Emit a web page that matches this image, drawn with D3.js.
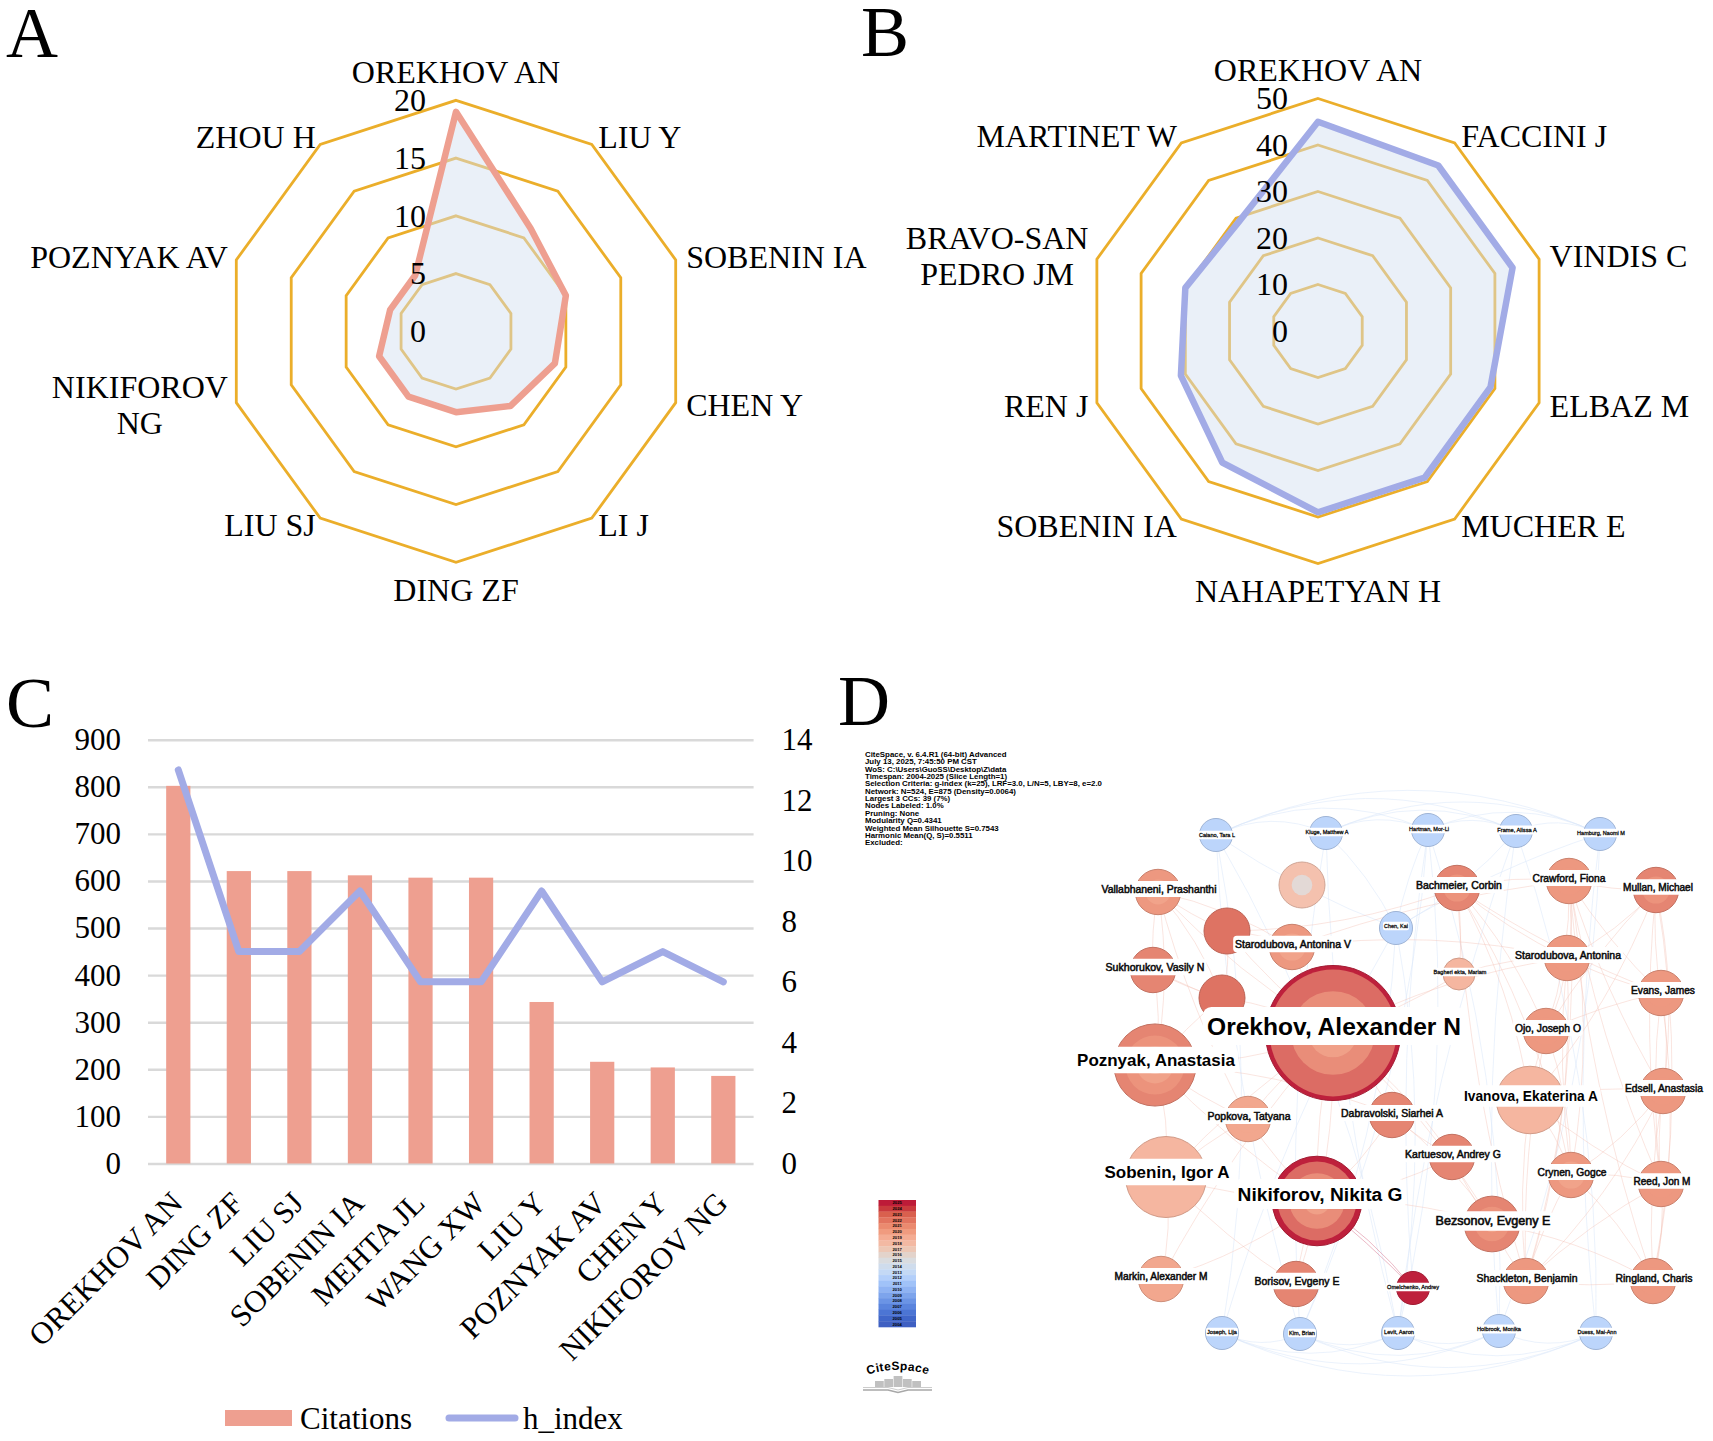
<!DOCTYPE html>
<html>
<head>
<meta charset="utf-8">
<script src="https://cdn.jsdelivr.net/npm/d3@7"></script>
<style>
  body { margin: 0; background: #fff; }
  svg { display: block; }
  text { font-family: "Liberation Serif", serif; fill: #000; }
  .net text, .info text, .logo text { font-family: "Liberation Sans", sans-serif; }
</style>
</head>
<body>
<svg id="chart" width="1713" height="1441"></svg>
<script>
// panel A
var radarAAuthors = ["OREKHOV AN", "LIU Y", "SOBENIN IA", "CHEN Y", "LI J", "DING ZF", "LIU SJ", "NIKIFOROV|NG", "POZNYAK AV", "ZHOU H"];
var radarAValues = [19, 11, 10, 9, 8, 7, 7, 7, 6, 6];
var radarATicks = [0, 5, 10, 15, 20];

// panel B
var radarBAuthors = ["OREKHOV AN", "FACCINI J", "VINDIS C", "ELBAZ M", "MUCHER E", "NAHAPETYAN H", "SOBENIN IA", "REN J", "BRAVO-SAN|PEDRO JM", "MARTINET W"];
var radarBValues = [45, 44, 44, 39, 39, 39, 35, 31, 30, 29];
var radarBTicks = [0, 10, 20, 30, 40, 50];

// panel C
var barAuthors = ["OREKHOV AN", "DING ZF", "LIU SJ", "SOBENIN IA", "MEHTA JL", "WANG XW", "LIU Y", "POZNYAK AV", "CHEN Y", "NIKIFOROV NG"];
var citations = [802, 621, 621, 612, 607, 607, 343, 216, 204, 186];
var hIndex = [13, 7, 7, 9, 6, 6, 9, 6, 7, 6];

// panel D
var infoLines = [
  "CiteSpace, v. 6.4.R1 (64-bit) Advanced",
  "July 13, 2025, 7:45:50 PM CST",
  "WoS: C:\\Users\\GuoSS\\Desktop\\Z\\data",
  "Timespan: 2004-2025 (Slice Length=1)",
  "Selection Criteria: g-index (k=25), LRF=3.0, L/N=5, LBY=8, e=2.0",
  "Network: N=524, E=875 (Density=0.0064)",
  "Largest 3 CCs: 39 (7%)",
  "Nodes Labeled: 1.0%",
  "Pruning: None",
  "Modularity Q=0.4341",
  "Weighted Mean Silhouette S=0.7543",
  "Harmonic Mean(Q, S)=0.5511",
  "Excluded:"
];
var legendYears = [2025, 2024, 2023, 2022, 2021, 2020, 2019, 2018, 2017, 2016, 2015, 2014, 2013, 2012, 2011, 2010, 2009, 2008, 2007, 2006, 2005, 2004];
var legendColors = ["#bd1b38", "#c93a3d", "#d9604e", "#e2745f", "#eb8a6f", "#f09b7f", "#f4ac93", "#f3b9a3", "#edc7b5", "#e3d3cb", "#dadcdf", "#cfdcec", "#c4d9f5", "#b3cffa", "#a0c2f8", "#8fb3f3", "#7da4ec", "#6b94e5", "#5a84dd", "#4c75d4", "#4066c9", "#3f60c2"];

var nodeNames = ["Caiano, Tara L", "Kluge, Matthew A", "Hartman, Mor-Li", "Frame, Alissa A", "Hamburg, Naomi M", "", "Vallabhaneni, Prashanthi", "Bachmeier, Corbin", "Crawford, Fiona", "Mullan, Michael", "", "Starodubova, Antonina V", "Chen, Kai", "Starodubova, Antonina", "Sukhorukov, Vasily N", "", "Bagheri ekta, Mariam", "Evans, James", "Orekhov, Alexander N", "Ojo, Joseph O", "Poznyak, Anastasia", "Ivanova, Ekaterina A", "Edsell, Anastasia", "Popkova, Tatyana", "Dabravolski, Siarhei A", "Sobenin, Igor A", "Kartuesov, Andrey G", "Nikiforov, Nikita G", "Crynen, Gogce", "Reed, Jon M", "Bezsonov, Evgeny E", "Markin, Alexander M", "Borisov, Evgeny E", "Omelchenko, Andrey", "Shackleton, Benjamin", "Ringland, Charis", "Joseph, Lija", "Kim, Brian", "Levit, Aaron", "Holbrook, Monika", "Duess, Mai-Ann"];
var nodeX = [116, 226, 328, 416, 500, 202, 58, 357, 469, 556, 127, 192, 296, 467, 53, 122, 359, 561, 233, 446, 55, 430, 563, 148, 292, 66, 352, 217, 471, 561, 392, 61, 196, 313, 426, 553, 122, 200, 298, 399, 496];
var nodeY = [55, 53, 50, 51, 54, 105, 112, 108, 101, 110, 151, 167, 148, 178, 190, 218, 194, 213, 253, 251, 285, 320, 311, 339, 335, 397, 377, 421, 395, 404, 444, 499, 504, 508, 501, 501, 553, 554, 553, 551, 553];
var nodeSize = [6, 6, 6, 6, 6, 11.6, 11.3, 11.3, 11.3, 11.3, 11.6, 11.3, 6, 11.3, 11.3, 11.6, 5.6, 11.3, 100, 11.3, 37, 25, 11.3, 11.3, 11.3, 36, 11.3, 44, 11.3, 11.3, 17, 11.3, 11.3, 6, 11.3, 11.3, 6, 6, 6, 6, 6];
// year of each ring from the rim inwards, with the fraction of the radius it reaches
var nodeRings = [
  [[2012, 1]], [[2012, 1]], [[2012, 1]], [[2012, 1]], [[2012, 1]],
  [[2018, 1], [2015, 0.45]],
  [[2021, 1], [2020, 0.55]], [[2022, 1], [2021, 0.6]], [[2021, 1], [2021, 0.6]], [[2022, 1], [2021, 0.6]],
  [[2023, 1]],
  [[2021, 1], [2020, 0.6]],
  [[2012, 1]],
  [[2021, 1], [2021, 0.6]],
  [[2022, 1]],
  [[2023, 1]],
  [[2019, 1]],
  [[2021, 1], [2021, 0.6]],
  [[2025, 1], [2022, 0.94], [2021, 0.62], [2020, 0.36]],
  [[2021, 1], [2021, 0.6]],
  [[2022, 1], [2021, 0.72], [2020, 0.45], [2019, 0.22]],
  [[2019, 1]],
  [[2021, 1], [2021, 0.6]],
  [[2020, 1], [2020, 0.6]],
  [[2022, 1]],
  [[2019, 1]],
  [[2022, 1]],
  [[2025, 1], [2022, 0.88], [2021, 0.62], [2020, 0.3]],
  [[2021, 1], [2020, 0.6]],
  [[2021, 1], [2021, 0.6]],
  [[2022, 1], [2021, 0.62], [2020, 0.3]],
  [[2020, 1]],
  [[2022, 1]],
  [[2025, 1]],
  [[2021, 1], [2021, 0.6]],
  [[2021, 1], [2021, 0.6]],
  [[2012, 1]], [[2012, 1]], [[2012, 1]], [[2012, 1]], [[2012, 1]]
];
var labelX = [117, 227, 329, 417, 501, 0, 59, 359, 469, 558, 0, 193, 296, 468, 55, 0, 360, 563, 234, 448, 56, 431, 564, 149, 292, 67, 353, 220, 472, 562, 393, 61, 197, 313, 427, 554, 122, 202, 299, 399, 497];
var labelY = [55, 52, 49, 50, 53, 0, 109, 105, 98, 107, 0, 164, 146, 175, 187, 0, 192, 210, 246, 248, 280, 316, 308, 336, 333, 392, 374, 414, 392, 401, 441, 496, 501, 507, 498, 498, 552, 553, 552, 549, 552];
var labelWidth = [36, 43, 40, 39.5, 48, 0, 115, 86, 73, 70, 0, 116, 24, 106, 99, 0, 53, 64, 254, 66, 158, 134, 78, 83, 102, 125, 96, 165, 69, 57, 115, 93, 85, 52, 101, 77, 30, 26, 30, 44, 39];

var redEdges = [[6, 10], [6, 11], [6, 14], [6, 15], [6, 18], [6, 20], [6, 23], [10, 11], [10, 18], [10, 15], [11, 18], [11, 13], [14, 15], [14, 20], [14, 18], [15, 18], [15, 20], [18, 20], [18, 23], [18, 24], [18, 25], [18, 26], [18, 27], [18, 30], [18, 31], [18, 32], [18, 16], [18, 13], [20, 23], [20, 25], [20, 27], [20, 24], [23, 27], [24, 27], [24, 26], [24, 30], [25, 27], [25, 31], [25, 32], [26, 27], [26, 30], [27, 30], [27, 32], [27, 31], [30, 34], [30, 35], [23, 25], [16, 13], [16, 7], [7, 8], [7, 13], [7, 19], [7, 17], [7, 28], [7, 34], [7, 21], [8, 9], [8, 13], [8, 17], [8, 19], [8, 22], [8, 28], [8, 29], [8, 34], [8, 35], [9, 13], [9, 17], [9, 22], [9, 29], [9, 35], [9, 19], [9, 21], [13, 17], [13, 19], [13, 28], [13, 34], [17, 19], [17, 22], [17, 29], [17, 35], [19, 21], [19, 28], [19, 34], [21, 28], [21, 34], [21, 22], [21, 29], [22, 28], [22, 29], [22, 34], [22, 35], [28, 29], [28, 34], [28, 35], [29, 34], [29, 35], [34, 35], [7, 10], [8, 11]];
var blueEdges = [[0, 12], [1, 12], [2, 12], [0, 38], [1, 38], [2, 38], [3, 38], [4, 39], [3, 39], [2, 39], [4, 40], [3, 40], [1, 37], [0, 36], [0, 37], [2, 37], [2, 33], [12, 38], [12, 36], [12, 37], [4, 12], [3, 12]];
var topArcs = [[0, 1], [0, 2], [0, 3], [0, 4], [1, 2], [1, 3], [1, 4], [2, 3], [2, 4], [3, 4]];
var bottomArcs = [[36, 37], [36, 38], [36, 39], [36, 40], [37, 38], [37, 39], [37, 40], [38, 39], [38, 40], [39, 40]];
var darkEdges = [[27, 33], [27, 33]];

var svg = d3.select("#chart");
var RING = "#ebae2a", SALMON = "#ee9f90", PERIWINKLE = "#a2abe6";

function panelLetter(letter, x, y) {
  svg.append("text").attr("x", x).attr("y", y).attr("font-size", 72).text(letter);
}
panelLetter("A", 6, 57);
panelLetter("B", 861, 56);
panelLetter("C", 6, 727);
panelLetter("D", 838, 725);

function drawRadar(opts) {
  var g = svg.append("g").attr("transform", "translate(" + opts.cx + "," + opts.cy + ")");
  var n = opts.authors.length;
  var angle = d3.scalePoint().domain(d3.range(n + 1)).range([0, 2 * Math.PI]);
  var r = d3.scaleLinear().domain([0, d3.max(opts.ticks)]).range([0, opts.radius]);
  var radial = d3.lineRadial().curve(d3.curveLinearClosed);

  opts.ticks.slice(1).forEach(function (t) {
    g.append("path")
      .attr("d", radial(d3.range(n).map(function (i) { return [angle(i), r(t)]; })))
      .attr("fill", "none").attr("stroke", RING).attr("stroke-width", 2.8);
  });

  var shape = radial(opts.values.map(function (v, i) { return [angle(i), r(v)]; }));
  g.append("path").attr("d", shape).attr("fill", "rgb(210,223,240)").attr("fill-opacity", 0.47);
  g.append("path").attr("d", shape).attr("fill", "none").attr("stroke", opts.color).attr("stroke-width", 6.5).attr("stroke-linejoin", "round");

  opts.ticks.forEach(function (t) {
    g.append("text").attr("x", -30).attr("y", -r(t)).attr("dy", "0.34em")
      .attr("text-anchor", "end").attr("font-size", 32).text(t);
  });

  opts.authors.forEach(function (name, i) {
    var a = angle(i), s = Math.sin(a), c = Math.cos(a);
    var x = opts.radius * s, y = -opts.radius * c;
    var isPole = Math.abs(s) < 0.01;
    var lx = isPole ? x : x + s * 11 + (s < 0 ? 2 : 0);
    var ly = isPole ? y - c * 28 : y - c * 9;
    var lines = name.split("|");
    var t = g.append("text").attr("font-size", 32)
      .attr("text-anchor", isPole ? "middle" : (s > 0 ? "start" : "end"))
      .attr("x", lx).attr("y", ly).attr("dy", "0.34em");
    if (lines.length > 1) {
      // two line labels are centred on their longer line, which keeps the usual right edge
      t.text(lines[0]);
      var w = t.node().getComputedTextLength();
      t.text(null).attr("text-anchor", "middle");
      var mid = lx - w / 2;
      var top = ly - 18;
      lines.forEach(function (l, j) {
        t.append("tspan").attr("x", mid).attr("y", top + j * 36).attr("dy", "0.34em").text(l);
      });
    } else {
      t.text(name);
    }
  });
}

drawRadar({ cx: 456, cy: 331.3, radius: 231, authors: radarAAuthors, values: radarAValues, ticks: radarATicks, color: SALMON });
drawRadar({ cx: 1318, cy: 331, radius: 232.5, authors: radarBAuthors, values: radarBValues, ticks: radarBTicks, color: PERIWINKLE });

// panel C
var c = svg.append("g");
var x = d3.scaleBand().domain(barAuthors).range([148, 753.6]).paddingInner(0.6).paddingOuter(0.3);
var yLeft = d3.scaleLinear().domain([0, 900]).range([1163.5, 739.7]);
var yRight = d3.scaleLinear().domain([0, 14]).range([1163.5, 739.7]);

var leftAxis = c.append("g").attr("transform", "translate(148,0)")
  .call(d3.axisLeft(yLeft).tickValues(d3.range(0, 901, 100)).tickSize(-605.6).tickPadding(27));
leftAxis.select(".domain").remove();
leftAxis.selectAll("line").attr("stroke", "#d9d9d9").attr("stroke-width", 2.4);
leftAxis.selectAll("text").attr("font-size", 31).attr("font-family", "Liberation Serif");

var rightAxis = c.append("g").attr("transform", "translate(753.6,0)")
  .call(d3.axisRight(yRight).tickValues(d3.range(0, 15, 2)).tickSize(0).tickPadding(28));
rightAxis.select(".domain").remove();
rightAxis.selectAll("text").attr("font-size", 31).attr("font-family", "Liberation Serif");

c.selectAll("rect.bar").data(citations).enter().append("rect").attr("class", "bar")
  .attr("x", function (d, i) { return x(barAuthors[i]); })
  .attr("width", x.bandwidth())
  .attr("y", function (d) { return yLeft(d); })
  .attr("height", function (d) { return yLeft(0) - yLeft(d); })
  .attr("fill", SALMON);

c.append("path")
  .attr("d", d3.line()
    .x(function (d, i) { return x(barAuthors[i]) + x.bandwidth() / 2; })
    .y(function (d) { return yRight(d); })(hIndex))
  .attr("fill", "none").attr("stroke", PERIWINKLE).attr("stroke-width", 7)
  .attr("stroke-linecap", "round").attr("stroke-linejoin", "round");

barAuthors.forEach(function (name) {
  var px = x(name) + x.bandwidth() / 2 + 6;
  c.append("text").attr("transform", "translate(" + px + ",1205) rotate(-45)")
    .attr("text-anchor", "end").attr("font-size", 31).text(name);
});

c.append("rect").attr("x", 225).attr("y", 1410).attr("width", 67).attr("height", 16).attr("fill", SALMON);
c.append("text").attr("x", 300).attr("y", 1429).attr("font-size", 31).text("Citations");
c.append("line").attr("x1", 449).attr("x2", 515).attr("y1", 1418).attr("y2", 1418)
  .attr("stroke", PERIWINKLE).attr("stroke-width", 7).attr("stroke-linecap", "round");
c.append("text").attr("x", 523).attr("y", 1429).attr("font-size", 31).text("h_index");

// panel D
var yearColor = d3.scaleOrdinal().domain(legendYears).range(legendColors);
var netX = d3.scaleLinear().domain([0, 613]).range([1100, 1713]);
var netY = d3.scaleLinear().domain([0, 661]).range([780, 1441]);
var nodeR = d3.scaleSqrt().domain([0, 100]).range([0, 67.5]);
var net = svg.append("g").attr("class", "net");

function edgePath(e, bend) {
  var x0 = netX(nodeX[e[0]]), y0 = netY(nodeY[e[0]]), x1 = netX(nodeX[e[1]]), y1 = netY(nodeY[e[1]]);
  var dx = x1 - x0, dy = y1 - y0;
  var p = d3.path();
  p.moveTo(x0, y0);
  p.quadraticCurveTo((x0 + x1) / 2 + dy * bend, (y0 + y1) / 2 - dx * bend, x1, y1);
  return p.toString();
}
function drawEdges(edges, color, width, opacity, bendOf) {
  net.append("g").selectAll("path").data(edges).enter().append("path")
    .attr("d", function (e, i) { return edgePath(e, bendOf(i)); })
    .attr("fill", "none").attr("stroke", color).attr("stroke-width", width).attr("stroke-opacity", opacity);
}
function alternating(i) { return i % 2 ? 0.09 : -0.06; }
drawEdges(blueEdges, "#dbe7fa", 1, 0.55, alternating);
drawEdges(topArcs, "#dbe7fa", 1, 0.55, function () { return 0.23; });
drawEdges(bottomArcs, "#dbe7fa", 1, 0.55, function () { return -0.23; });
drawEdges(redEdges, "#f4c0b4", 1, 0.42, alternating);
drawEdges(darkEdges, "#dd8ba0", 1, 0.6, function (i) { return i ? 0.08 : 0.03; });

var nodes = net.append("g").selectAll("g").data(nodeNames).enter().append("g")
  .attr("transform", function (d, i) { return "translate(" + netX(nodeX[i]) + "," + netY(nodeY[i]) + ")"; });
nodes.each(function (d, i) {
  var g = d3.select(this), radius = nodeR(nodeSize[i]);
  nodeRings[i].forEach(function (ring, j) {
    var col = d3.interpolateRgb(yearColor(ring[0]), "#ffffff")(ring[0] === 2025 ? 0.02 : 0.12);
    g.append("circle").attr("r", radius * ring[1]).attr("fill", col)
      .attr("fill-opacity", j === 0 ? 1 : 0.75)
      .attr("stroke", j === 0 ? d3.color(col).darker(0.45) : "none")
      .attr("stroke-width", j === 0 ? 1 : 0);
  });
});

function fitFont(sel, text, width, weight) {
  var t = sel.append("text").attr("font-size", 10).attr("font-weight", weight).text(text);
  var size = 10 * width / t.node().getComputedTextLength();
  t.remove();
  return size;
}
var labelBoxes = net.append("g"), labelTexts = net.append("g");
nodeNames.forEach(function (name, i) {
  if (!name) return;
  // the big names are bold, the rest are regular with a thin outline
  var weight = labelWidth[i] >= 120 ? 700 : 400;
  var size = fitFont(labelTexts, name, labelWidth[i], weight);
  var h = size * 1.55, w = labelWidth[i] + size * 0.35;
  var lx = netX(labelX[i]), ly = netY(labelY[i]);
  labelBoxes.append("rect").attr("x", lx - w / 2).attr("y", ly - h / 2).attr("width", w).attr("height", h)
    .attr("rx", size * 0.35).attr("fill", "#fff");
  labelTexts.append("text").attr("x", lx).attr("y", ly).attr("dy", "0.35em").attr("text-anchor", "middle")
    .attr("font-size", size).attr("font-weight", weight).attr("fill", "#111")
    .attr("stroke", weight === 400 ? "#111" : "none").attr("stroke-width", weight === 400 ? size * 0.05 : 0)
    .text(name);
});

// run information block
var info = svg.append("g").attr("class", "info");
var infoSize = fitFont(info, infoLines[4], 237, 700);
var infoY = d3.scaleLinear().domain([0, infoLines.length - 1]).range([754, 842.5]);
info.selectAll("text").data(infoLines).enter().append("text")
  .attr("x", 865).attr("y", function (d, i) { return infoY(i); }).attr("dy", "0.35em")
  .attr("font-size", infoSize).attr("font-weight", 700).attr("fill", "#222").text(function (d) { return d; });

// year colour bar
var barY = d3.scaleBand().domain(legendYears).range([1200, 1327]);
var yearBar = svg.append("g").attr("class", "info");
yearBar.selectAll("rect").data(legendYears).enter().append("rect")
  .attr("x", 878.5).attr("width", 37.5)
  .attr("y", function (d) { return barY(d); }).attr("height", barY.bandwidth() + 0.3)
  .attr("fill", function (d) { return yearColor(d); });
yearBar.selectAll("text").data(legendYears).enter().append("text")
  .attr("x", 897.2).attr("y", function (d) { return barY(d) + barY.bandwidth() / 2; }).attr("dy", "0.35em")
  .attr("text-anchor", "middle").attr("font-size", 4.2).attr("font-weight", 700).attr("fill", "#333")
  .text(function (d) { return d; });

// CiteSpace mark
var logo = svg.append("g").attr("class", "logo");
logo.append("path").attr("id", "logoArc").attr("fill", "none").attr("d", "M866,1375 Q898,1365 930,1375");
logo.append("text").attr("font-size", 12).attr("font-weight", 700).attr("fill", "#b0b0b0").attr("letter-spacing", 0.4)
  .append("textPath").attr("href", "#logoArc").attr("startOffset", "50%").attr("text-anchor", "middle").text("CiteSpace");
var bookHeights = [6, 8, 11, 8, 6];
var bookX = d3.scaleBand().domain(d3.range(bookHeights.length)).range([875, 921]).paddingInner(0.06);
logo.selectAll("rect").data(bookHeights).enter().append("rect")
  .attr("x", function (d, i) { return bookX(i); }).attr("width", bookX.bandwidth())
  .attr("y", function (d) { return 1387 - d; }).attr("height", function (d) { return d; })
  .attr("fill", "#c0c0c0");
logo.append("path").attr("d", "M863,1390 L888,1390 L898,1392.5 L908,1390 L932,1390").attr("fill", "none").attr("stroke", "#a8a8a8").attr("stroke-width", 1.6);
logo.append("path").attr("d", "M863,1387.5 L888,1387.5 L898,1390 L908,1387.5 L932,1387.5").attr("fill", "none").attr("stroke", "#cccccc").attr("stroke-width", 1);
</script>
</body>
</html>
